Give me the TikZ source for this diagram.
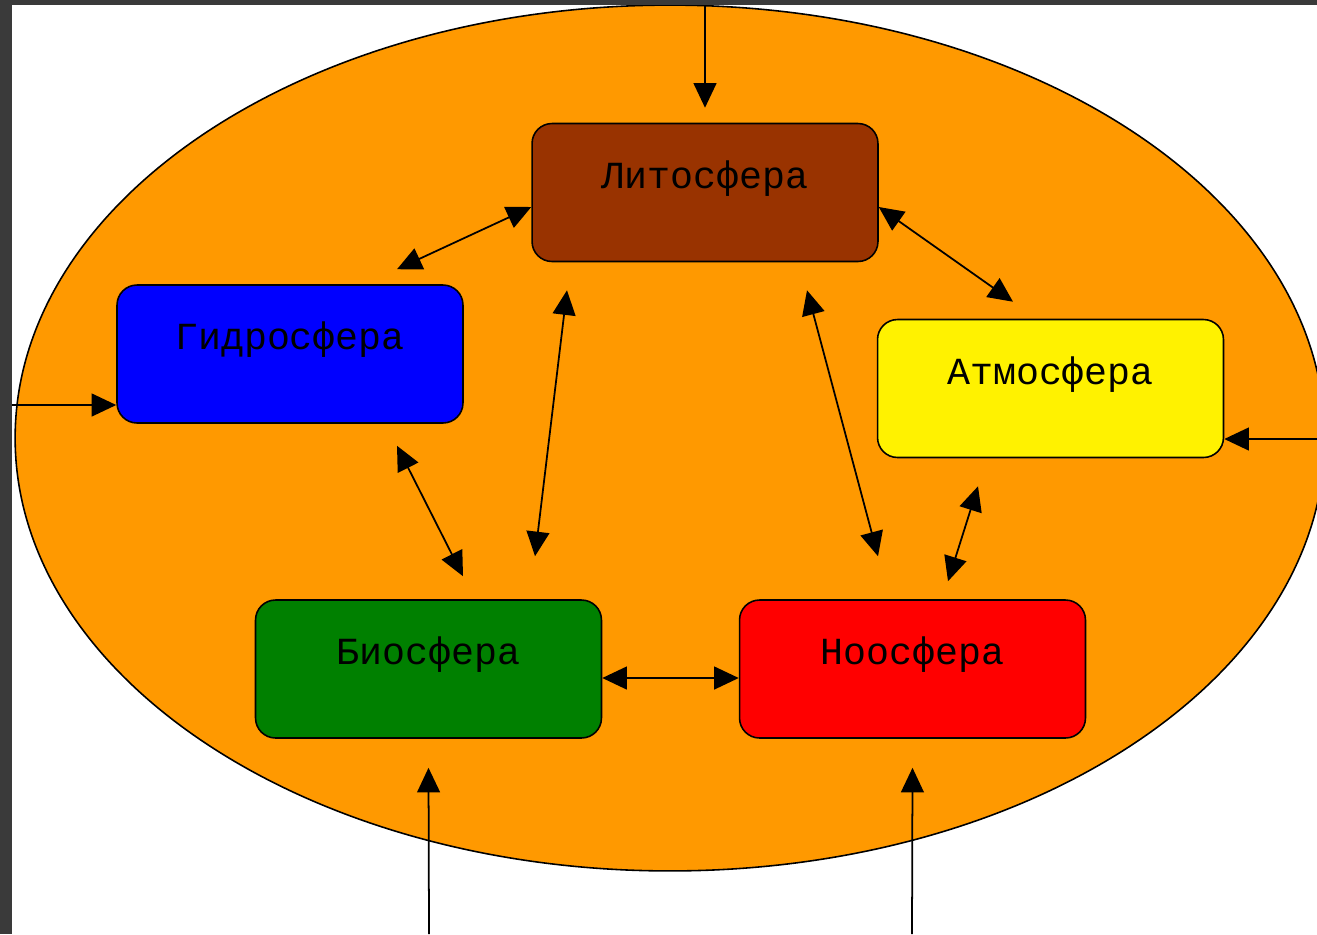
\documentclass[tikz,border=0pt]{standalone}
\usepackage{fontspec}
\newfontfamily\courfont{Liberation Mono}
\usetikzlibrary{arrows.meta,calc}
\definecolor{framegrey}{HTML}{3A3A3A}
\definecolor{earth}{HTML}{FF9900}
\definecolor{lithobrown}{HTML}{993300}
\definecolor{biogreen}{HTML}{008000}
\begin{document}
\begin{tikzpicture}[x=0.02cm,y=-0.02cm,line width=1pt,>={Triangle[length=14pt,width=13pt]},
    sphere/.style={draw,line width=0.9pt,rounded corners=0.4cm,minimum width=6.92cm,minimum height=2.76cm,
      font=\courfont\fontsize{21.8pt}{26pt}\selectfont,text height=0.5cm,text depth=0.68cm}]
    \useasboundingbox (0,0) rectangle (1317,934);
    \fill[white] (0,0) rectangle (1317,934);
    \filldraw[fill=earth,line width=0.9pt] (670,438) ellipse [x radius=13.1cm,y radius=8.66cm];
    \fill[framegrey] (0,0) rectangle (12,934);
    \fill[framegrey] (0,0) rectangle (1317,5);
    \node[sphere,fill=lithobrown] (lito) at (705,192.5) {Литосфера};
    \node[sphere,fill=blue] (hydro) at (290,354) {Гидросфера};
    \node[sphere,fill=yellow] (atmo) at (1050.5,388.5) {Атмосфера};
    \node[sphere,fill=biogreen] (bio) at (428.5,669) {Биосфера};
    \node[sphere,fill=red] (noo) at (912.5,669) {Ноосфера};
    \coordinate (intop) at (705,5);
    \coordinate (inleft) at (12,405);
    \coordinate (inright) at (1317,439);
    \coordinate (inbio) at (429,934);
    \coordinate (innoo) at (912,934);
    \draw[->] (intop) -- ($(lito.north)+(0,-15)$);
    \draw[->] (inleft) -- ($(hydro.west)+(0,51)$);
    \draw[->] (inright) -- ($(atmo.east)+(0,50.5)$);
    \draw[->] (inbio) -- ($(bio.south)+(0,29)$);
    \draw[->] (innoo) -- ($(noo.south)+(0,29)$);
    \draw[<->] ($(lito.west)+(0,14.5)$) -- ($(hydro.north)+(107,-15)$);
    \draw[<->] ($(lito.east)+(0,14.5)$) -- ($(atmo.north)+(-37.5,-17)$);
    \draw[<->] ($(lito.south)+(-138,28)$) -- ($(bio.north)+(106.5,-43)$);
    \draw[<->] ($(lito.south)+(102,28)$) -- ($(noo.north)+(-34.5,-43)$);
    \draw[<->] ($(hydro.south)+(107,22)$) -- ($(bio.north)+(34.5,-23)$);
    \draw[<->] ($(atmo.south)+(-72.5,28)$) -- ($(noo.north)+(35.5,-18)$);
    \draw[<->] ($(bio.east)+(0,9)$) -- ($(noo.west)+(0,9)$);
\end{tikzpicture}
\end{document}
